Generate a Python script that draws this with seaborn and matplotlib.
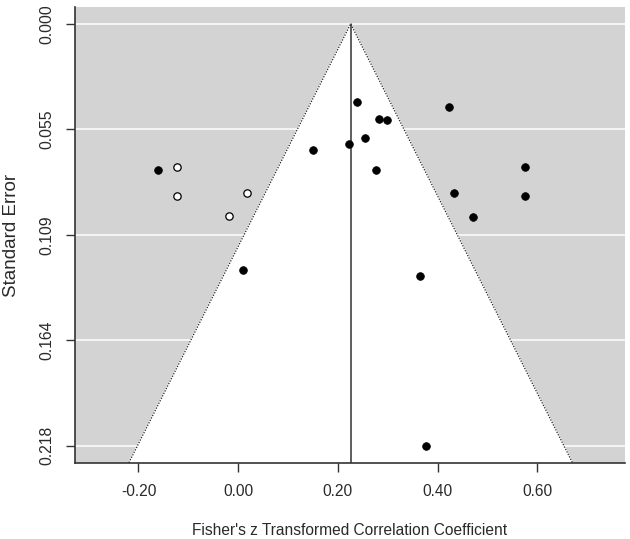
import numpy as np
import pandas as pd
import matplotlib
matplotlib.use("Agg")
import matplotlib.pyplot as plt
from matplotlib import font_manager
import seaborn as sns

# observed studies (Fisher's z, standard error)
obs_z = [-0.160, 0.151, 0.009, 0.238, 0.422, 0.282, 0.298, 0.255, 0.223,
         0.277, 0.575, 0.433, 0.575, 0.471, 0.365, 0.377]
obs_se = [0.0757, 0.0650, 0.1273, 0.0402, 0.0428, 0.0493, 0.0498, 0.0593, 0.0624,
          0.0757, 0.0741, 0.0873, 0.0893, 0.0997, 0.1304, 0.2183]

# imputed studies from trim-and-fill
fill_z = [-0.123, -0.123, 0.018, -0.019]
fill_se = [0.0741, 0.0893, 0.0873, 0.0995]

estimate = 0.2257
se_ticks = [0.0, 0.0546, 0.1092, 0.1637, 0.2183]
z_ticks = [-0.2, 0.0, 0.2, 0.4, 0.6]

obs = pd.DataFrame({"z": obs_z, "se": obs_se})
fill = pd.DataFrame({"z": fill_z, "se": fill_se})

sns.set_style("ticks")
plt.rcParams["font.family"] = ["Liberation Sans", "DejaVu Sans"]
plt.rcParams["text.color"] = "#2a2a2a"
plt.rcParams["xtick.labelcolor"] = "#2a2a2a"
plt.rcParams["ytick.labelcolor"] = "#2a2a2a"
plt.rcParams["axes.labelcolor"] = "#2a2a2a"

names = {f.name for f in font_manager.fontManager.ttflist}
narrow = "Liberation Sans Narrow" in names
hfam = ["Liberation Sans Narrow", "Liberation Sans"] if narrow else ["Liberation Sans"]
hsize = 13.5 if narrow else 11.2

fig = plt.figure(figsize=(6.3, 5.39), dpi=100)
ax = fig.add_axes([0.119, 0.1416, 0.873, 0.845])

xlim = (-0.3274, 0.776)
ylim = (0.2270, -0.0086)
ax.set_xlim(*xlim)
ax.set_ylim(*ylim)
ax.set_facecolor("#d3d3d3")

# grid lines on the grey background
for t in se_ticks:
    ax.axhline(t, color="white", lw=1.1, zorder=1)

# funnel (pseudo 95% CI region)
se_bot = ylim[0]
fx = [estimate - 1.96 * se_bot, estimate, estimate + 1.96 * se_bot]
fy = [se_bot, 0, se_bot]
ax.fill(fx, fy, color="white", zorder=2)
ax.plot(fx, fy, color="#222222", lw=0.9, ls=(0, (1, 1.2)), zorder=3)
ax.plot([estimate, estimate], [0, se_bot], color="#333333", lw=1.1, zorder=3)

sns.scatterplot(data=obs, x="z", y="se", ax=ax, color="black", s=30,
                edgecolor="black", linewidth=0.6, zorder=4, legend=False)
sns.scatterplot(data=fill, x="z", y="se", ax=ax, color="white", s=28,
                edgecolor="black", linewidth=0.9, zorder=4, legend=False)

ax.set_yticks(se_ticks)
ax.set_yticklabels([f"{t:.3f}" for t in se_ticks], rotation=90, va="center", fontsize=11.3)
ax.set_xticks(z_ticks)
ax.set_xticklabels([f"{t:.2f}" for t in z_ticks], fontsize=hsize, family=hfam)
ax.tick_params(axis="both", length=6.5, width=1, color="#333333")
ax.tick_params(axis="x", pad=9)
ax.tick_params(axis="y", pad=8)

ax.set_xlabel("Fisher's z Transformed Correlation Coefficient", fontsize=hsize,
              family=hfam, labelpad=17)
ax.set_ylabel("Standard Error", fontsize=13.5, va="center")
ax.yaxis.set_label_coords(-0.116, 0.5)

for side in ["top", "right"]:
    ax.spines[side].set_visible(False)
for side in ["left", "bottom"]:
    ax.spines[side].set_color("#333333")
    ax.spines[side].set_linewidth(1.2)

fig.savefig("out.png", dpi=100)
